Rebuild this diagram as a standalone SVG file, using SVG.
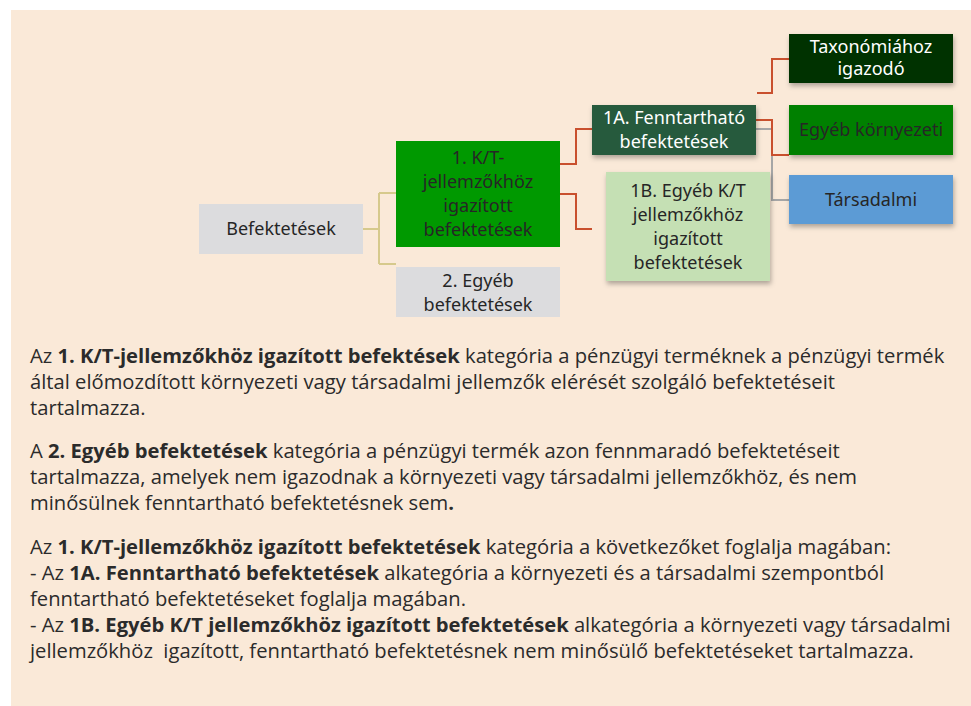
<svg xmlns="http://www.w3.org/2000/svg" width="971" height="706" viewBox="0 0 971 706">
<style>
.n{font-family:"Noto Sans","Open Sans",sans-serif;font-size:18px;text-anchor:middle;fill:#262626}
.w{fill:#ffffff}
.b{font-family:"Open Sans","Noto Sans",sans-serif;font-size:20.2px;fill:#2b2b2b}
.b tspan.k{font-weight:bold}
.c{fill:none;stroke-width:2}
.r{stroke:#c9502e}
.g{stroke:#a6a6a6}
.y{stroke:#d6c98c}
</style>
<defs>
<filter id="sh" x="-10%" y="-10%" width="125%" height="140%">
<feDropShadow dx="1" dy="3" stdDeviation="2.5" flood-color="#000" flood-opacity="0.3"/>
</filter>
</defs>
<rect x="0" y="0" width="971" height="706" fill="#ffffff"/>
<rect x="11" y="10" width="960" height="696" fill="#fae9d8"/>
<g id="connectors">
<path class="c y" d="M363,229 H379 M379,193 V264 M379,193 H396 M379,264 H396"/>
<path class="c r" d="M560,164 H576 V129 H592"/>
<path class="c r" d="M560,194 H576 V229 H592"/>
<path class="c r" d="M757,93 H772 V59 H789"/>
<path class="c g" d="M756,129 H772 V200 H789"/>
<path class="c r" d="M756,120 H772 V155 H789"/>
</g>
<g id="n-befektetesek">
<rect x="199" y="204" width="164" height="50" fill="#dcdcde"/>
<text class="n" x="281" y="235">Befektetések</text>
</g>
<g id="n-1kt">
<rect x="396" y="141" width="164" height="106" fill="#009900"/>
<text class="n" x="478" y="164">1. K/T-</text>
<text class="n" x="478" y="188">jellemzőkhöz</text>
<text class="n" x="478" y="212">igazított</text>
<text class="n" x="478" y="236">befektetések</text>
</g>
<g id="n-2egyeb">
<rect x="396" y="267" width="164" height="50" fill="#dcdcde"/>
<text class="n" x="478" y="287">2. Egyéb</text>
<text class="n" x="478" y="311">befektetések</text>
</g>
<g id="n-1a">
<rect x="592" y="105" width="164" height="50" fill="#265a3c" filter="url(#sh)"/>
<text class="n w" x="674" y="124">1A. Fenntartható</text>
<text class="n w" x="674" y="148">befektetések</text>
</g>
<g id="n-1b">
<rect x="606" y="172" width="164" height="109" fill="#c5e0b4" filter="url(#sh)"/>
<text class="n" x="688" y="197">1B. Egyéb K/T</text>
<text class="n" x="688" y="221">jellemzőkhöz</text>
<text class="n" x="688" y="245">igazított</text>
<text class="n" x="688" y="269">befektetések</text>
</g>
<g id="n-taxonomia">
<rect x="789" y="34" width="164" height="49" fill="#003300" filter="url(#sh)"/>
<text class="n w" x="871" y="53">Taxonómiához</text>
<text class="n w" x="871" y="75">igazodó</text>
</g>
<g id="n-egyeb-kornyezeti">
<rect x="789" y="105" width="164" height="50" fill="#008000" filter="url(#sh)"/>
<text class="n" x="871" y="136">Egyéb környezeti</text>
</g>
<g id="n-tarsadalmi">
<rect x="789" y="175" width="164" height="49" fill="#5b9bd5" filter="url(#sh)"/>
<text class="n" x="871" y="206">Társadalmi</text>
</g>
<g id="body-text">
<text class="b" x="30" y="363">Az <tspan class="k">1. K/T-jellemzőkhöz igazított befektések</tspan> kategória a pénzügyi terméknek a pénzügyi termék</text>
<text class="b" x="30" y="389">által előmozdított környezeti vagy társadalmi jellemzők elérését szolgáló befektetéseit</text>
<text class="b" x="30" y="415">tartalmazza.</text>
<text class="b" x="30" y="458">A <tspan class="k">2. Egyéb befektetések</tspan> kategória a pénzügyi termék azon fennmaradó befektetéseit</text>
<text class="b" x="30" y="484">tartalmazza, amelyek nem igazodnak a környezeti vagy társadalmi jellemzőkhöz, és nem</text>
<text class="b" x="30" y="510">minősülnek fenntartható befektetésnek sem<tspan class="k">.</tspan></text>
<text class="b" x="30" y="554">Az <tspan class="k">1. K/T-jellemzőkhöz igazított befektetések</tspan> kategória a következőket foglalja magában:</text>
<text class="b" x="30" y="580">- Az <tspan class="k">1A. Fenntartható befektetések</tspan> alkategória a környezeti és a társadalmi szempontból</text>
<text class="b" x="30" y="606">fenntartható befektetéseket foglalja magában.</text>
<text class="b" x="30" y="632">- Az <tspan class="k">1B. Egyéb K/T jellemzőkhöz igazított befektetések</tspan> alkategória a környezeti vagy társadalmi</text>
<text class="b" x="30" y="658" xml:space="preserve">jellemzőkhöz  igazított, fenntartható befektetésnek nem minősülő befektetéseket tartalmazza.</text>
</g>
</svg>
